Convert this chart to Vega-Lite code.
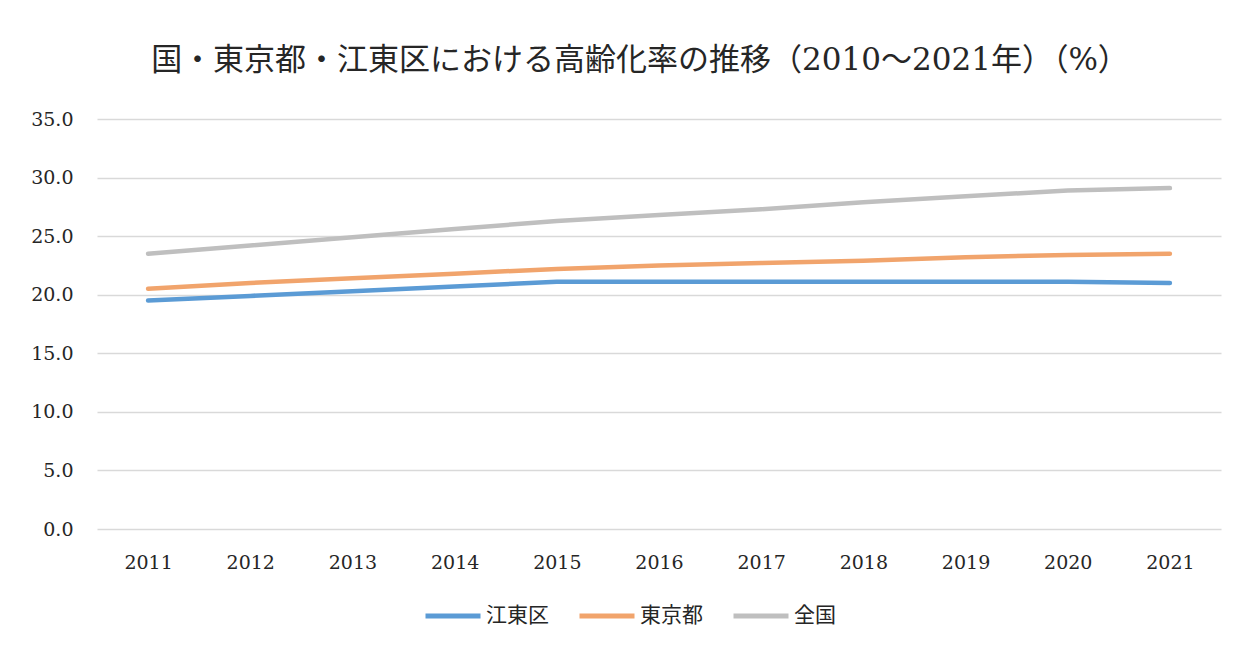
{
  "$schema": "https://vega.github.io/schema/vega-lite/v6.json",
  "width": 1124,
  "height": 410,
  "autosize": {"type": "none"},
  "padding": {"left": 97, "top": 119, "right": 18, "bottom": 121},
  "background": "white",
  "title": {
    "text": "国・東京都・江東区における高齢化率の推移（2010～2021年）（%）",
    "font": "DejaVu Serif, Noto Sans CJK JP",
    "fontSize": 31,
    "fontWeight": "normal",
    "color": "#262626",
    "offset": 33,
    "dx": -19,
    "anchor": "middle"
  },
  "data": {
    "values": [
      {"year": "2011", "area": "江東区", "rate": 19.5},
      {"year": "2012", "area": "江東区", "rate": 19.9},
      {"year": "2013", "area": "江東区", "rate": 20.3},
      {"year": "2014", "area": "江東区", "rate": 20.7},
      {"year": "2015", "area": "江東区", "rate": 21.1},
      {"year": "2016", "area": "江東区", "rate": 21.1},
      {"year": "2017", "area": "江東区", "rate": 21.1},
      {"year": "2018", "area": "江東区", "rate": 21.1},
      {"year": "2019", "area": "江東区", "rate": 21.1},
      {"year": "2020", "area": "江東区", "rate": 21.1},
      {"year": "2021", "area": "江東区", "rate": 21.0},
      {"year": "2011", "area": "東京都", "rate": 20.5},
      {"year": "2012", "area": "東京都", "rate": 21.0},
      {"year": "2013", "area": "東京都", "rate": 21.4},
      {"year": "2014", "area": "東京都", "rate": 21.8},
      {"year": "2015", "area": "東京都", "rate": 22.2},
      {"year": "2016", "area": "東京都", "rate": 22.5},
      {"year": "2017", "area": "東京都", "rate": 22.7},
      {"year": "2018", "area": "東京都", "rate": 22.9},
      {"year": "2019", "area": "東京都", "rate": 23.2},
      {"year": "2020", "area": "東京都", "rate": 23.4},
      {"year": "2021", "area": "東京都", "rate": 23.5},
      {"year": "2011", "area": "全国", "rate": 23.5},
      {"year": "2012", "area": "全国", "rate": 24.2},
      {"year": "2013", "area": "全国", "rate": 24.9},
      {"year": "2014", "area": "全国", "rate": 25.6},
      {"year": "2015", "area": "全国", "rate": 26.3},
      {"year": "2016", "area": "全国", "rate": 26.8},
      {"year": "2017", "area": "全国", "rate": 27.3},
      {"year": "2018", "area": "全国", "rate": 27.9},
      {"year": "2019", "area": "全国", "rate": 28.4},
      {"year": "2020", "area": "全国", "rate": 28.9},
      {"year": "2021", "area": "全国", "rate": 29.1}
    ]
  },
  "mark": {"type": "line", "strokeWidth": 4.5, "strokeCap": "round", "strokeJoin": "round"},
  "encoding": {
    "x": {
      "field": "year",
      "type": "ordinal",
      "scale": {"type": "point", "padding": 0.5},
      "axis": {
        "title": null,
        "labelAngle": 0,
        "labelFont": "DejaVu Serif",
        "labelFontSize": 19,
        "labelColor": "#262626",
        "labelPadding": 24,
        "ticks": false,
        "domain": false,
        "grid": false
      }
    },
    "y": {
      "field": "rate",
      "type": "quantitative",
      "scale": {"domain": [0, 35], "nice": false},
      "axis": {
        "title": null,
        "values": [0, 5, 10, 15, 20, 25, 30, 35],
        "format": ".1f",
        "labelFont": "DejaVu Serif",
        "labelFontSize": 19,
        "labelColor": "#262626",
        "labelPadding": 24,
        "ticks": false,
        "domain": false,
        "grid": true,
        "gridColor": "#d9d9d9",
        "gridWidth": 1.5
      }
    },
    "color": {
      "field": "area",
      "type": "nominal",
      "sort": ["江東区", "東京都", "全国"],
      "scale": {"domain": ["江東区", "東京都", "全国"], "range": ["#5B9BD5", "#F1A46C", "#BFBFBF"]},
      "legend": {
        "title": null,
        "orient": "none",
        "direction": "horizontal",
        "legendX": 326,
        "legendY": 467,
        "symbolType": "stroke",
        "symbolSize": 3025,
        "symbolStrokeWidth": 5,
        "labelFont": "Noto Sans CJK JP",
        "labelFontSize": 21,
        "labelColor": "#262626",
        "labelOffset": 3,
        "columnPadding": 20
      }
    }
  },
  "config": {
    "view": {"stroke": null}
  }
}
